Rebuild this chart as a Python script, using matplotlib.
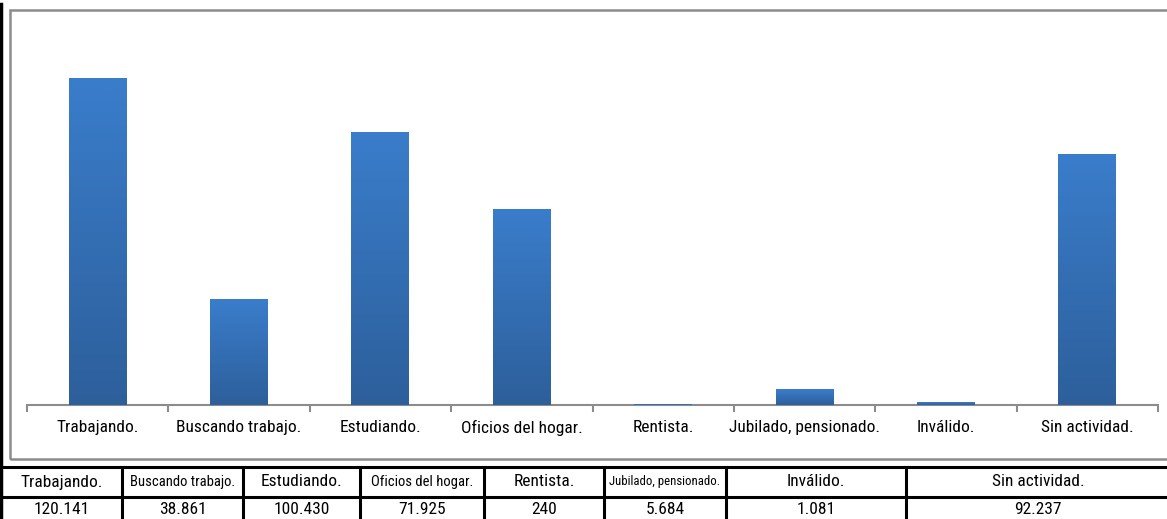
import numpy as np
import matplotlib.pyplot as plt
from matplotlib.colors import LinearSegmentedColormap
from matplotlib.patches import Rectangle
from matplotlib.lines import Line2D

categories = ["Trabajando.", "Buscando trabajo.", "Estudiando.", "Oficios del hogar.",
              "Rentista.", "Jubilado, pensionado.", "Inválido.", "Sin actividad."]
values = [120141, 38861, 100430, 71925, 240, 5684, 1081, 92237]

# table layout (pixel columns) and header font sizes
col_edges = [1, 122, 243, 360, 484, 604, 726, 906, 1170]
head_sizes = [12.5, 10.5, 12.5, 10.5, 12.5, 9.2, 12.5, 12.5]

plt.rcParams['font.family'] = ['Roboto Condensed', 'DejaVu Sans']

W, H = 1167, 519
fig = plt.figure(figsize=(W / 100, H / 100), dpi=100)

def fx(px):
    return px / W

def fy(py):
    return 1 - py / H

# outer chart border
fig.add_artist(Rectangle((fx(10), fy(459)), fx(1170) - fx(10), fy(10) - fy(459),
                         transform=fig.transFigure, fill=False, ec="#8c8c8c", lw=1.8))

ax = fig.add_axes([fx(27), fy(405), fx(1158) - fx(27), fy(25) - fy(405)])
x = np.arange(len(categories))
bars = ax.bar(x, values, width=0.41, color="#3a7dcb", zorder=2)

cmap = LinearSegmentedColormap.from_list("g", ["#2d5f9b", "#3a7dcb"])
grad = np.linspace(0, 1, 256).reshape(-1, 1)
for b in bars:
    ax.imshow(grad, extent=[b.get_x(), b.get_x() + b.get_width(), 0, b.get_height()],
              cmap=cmap, origin="lower", aspect="auto", zorder=3)

ax.set_xlim(-0.5, len(categories) - 0.5)
ax.set_ylim(0, 140000)
for s in ["top", "right", "left"]:
    ax.spines[s].set_visible(False)
ax.spines["bottom"].set_color("#8c8c8c")
ax.spines["bottom"].set_linewidth(1.5)
ax.set_yticks([])
ax.set_xticks(np.arange(len(categories) + 1) - 0.5)
ax.set_xticklabels([])
ax.tick_params(axis="x", length=5, color="#8c8c8c", width=1.5)
for i, c in enumerate(categories):
    ax.text(i, -0.04, c, transform=ax.get_xaxis_transform(), ha="center", va="top", fontsize=12.5)

# left black border
fig.add_artist(Line2D([fx(1), fx(1)], [fy(4), fy(519)], transform=fig.transFigure, color="black", lw=2.5))

# data table
row_y = [467, 497, 522]
for yy in row_y:
    fig.add_artist(Line2D([fx(0), fx(1167)], [fy(yy), fy(yy)], transform=fig.transFigure, color="black", lw=2.2))
for xx in col_edges[1:-1]:
    fig.add_artist(Line2D([fx(xx), fx(xx)], [fy(467), fy(519)], transform=fig.transFigure, color="black", lw=2.2))

for i, c in enumerate(categories):
    cx = fx((col_edges[i] + col_edges[i + 1]) / 2)
    fig.text(cx, fy(482), c, ha="center", va="center", fontsize=head_sizes[i])
    fig.text(cx, fy(509), f"{values[i]:,}".replace(",", "."), ha="center", va="center", fontsize=12.5)

fig.savefig("out.png", dpi=100)
